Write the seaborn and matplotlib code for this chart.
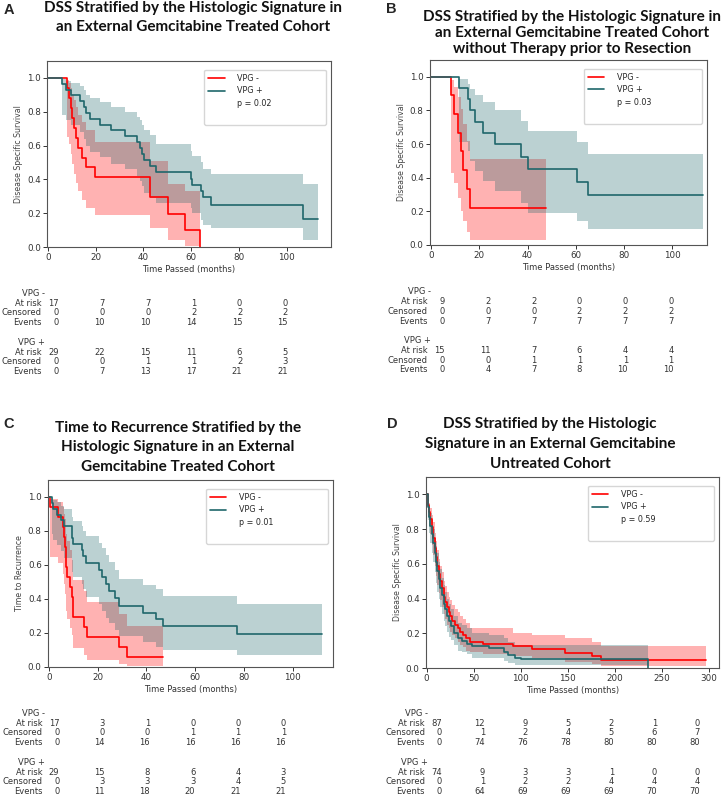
import matplotlib
matplotlib.use("Agg")
import matplotlib.pyplot as plt
import matplotlib.transforms as mtransforms
from matplotlib.lines import Line2D
import seaborn as sns

# ---------------- data ----------------
# Panel A : DSS, gemcitabine treated cohort
a_neg_t = [0, 8.0, 8.9, 9.6, 10.2, 10.7, 11.9, 12.6, 14.2, 15.9, 19.8, 42.6, 50.2, 57.5, 63.7]
a_neg_s = [1, .941, .882, .824, .765, .706, .647, .588, .529, .471, .412, .294, .196, .098, 0]
a_neg_lo = [1, .65, .61, .55, .49, .43, .38, .33, .28, .23, .19, .11, .04, .005, 0]
a_neg_hi = [1, .99, .97, .94, .90, .87, .83, .78, .74, .69, .62, .51, .37, .33, 0]
a_pos_t = [0, 5.9, 7.4, 9.6, 13.5, 15.2, 15.9, 17.4, 21.6, 26.5, 32.4, 37.2, 38.6, 39.3, 40.2,
           42.8, 45.2, 59.8, 60.5, 64.2, 65.0, 68.3, 106.7, 113.2]
a_pos_s = [1, .966, .931, .897, .862, .828, .793, .759, .724, .690, .655, .621, .586, .552, .517,
           .480, .442, .405, .368, .331, .294, .250, .167, .167]
a_pos_lo = [1, .78, .75, .72, .68, .64, .60, .56, .53, .49, .46, .42, .39, .36, .32,
            .29, .26, .23, .20, .16, .13, .11, .04, .04]
a_pos_hi = [1, .995, .98, .97, .95, .93, .90, .88, .86, .83, .80, .77, .75, .72, .69,
            .66, .61, .57, .54, .50, .46, .43, .37, .37]
a_neg_table = [[17, 7, 7, 1, 0, 0], [0, 0, 0, 2, 2, 2], [0, 10, 10, 14, 15, 15]]
a_pos_table = [[29, 22, 15, 11, 6, 5], [0, 0, 1, 1, 2, 3], [0, 7, 13, 17, 21, 21]]

# Panel B : DSS, no therapy prior to resection
b_neg_t = [0, 8.2, 9.6, 11.1, 12.2, 13.2, 14.8, 16.1, 47.8]
b_neg_s = [1, .889, .778, .667, .556, .444, .333, .222, .222]
b_neg_lo = [1, .43, .37, .28, .20, .14, .08, .03, .03]
b_neg_hi = [1, .98, .94, .88, .81, .72, .62, .51, .51]
b_pos_t = [0, 11.5, 15.1, 16.2, 18.0, 21.7, 26.6, 37.4, 40.2, 60.5, 65.0, 112.7]
b_pos_s = [1, .933, .867, .800, .733, .667, .600, .525, .450, .375, .300, .300]
b_pos_lo = [1, .61, .56, .50, .44, .38, .32, .25, .19, .14, .095, .095]
b_pos_hi = [1, .99, .96, .93, .89, .85, .80, .74, .68, .61, .54, .54]
b_neg_table = [[9, 2, 2, 0, 0, 0], [0, 0, 0, 2, 2, 2], [0, 7, 7, 7, 7, 7]]
b_pos_table = [[15, 11, 7, 6, 4, 4], [0, 0, 1, 1, 1, 1], [0, 4, 7, 8, 10, 10]]

# Panel C : time to recurrence
c_neg_t = [0, 0.3, 3.8, 5.6, 6.0, 6.4, 6.8, 7.0, 7.2, 8.6, 9.3, 9.7, 10.0, 14.3, 15.7, 28.8, 31.8, 46.8]
c_neg_s = [1, .941, .882, .824, .765, .706, .647, .588, .529, .471, .412, .353, .294, .235, .176, .118, .059, .059]
c_neg_lo = [1, .65, .61, .55, .49, .43, .38, .33, .28, .23, .19, .15, .11, .07, .04, .02, .004, .004]
c_neg_hi = [1, .99, .97, .94, .90, .87, .83, .78, .74, .69, .63, .57, .51, .45, .38, .31, .24, .24]
c_pos_t = [0, 1.1, 1.8, 3.4, 5.1, 6.2, 9.5, 9.6, 9.8, 13.4, 14.1, 15.0, 20.5, 21.6, 23.3, 24.5,
           27.0, 28.6, 38.6, 44.0, 46.8, 77.2, 112.0]
c_pos_s = [1, .966, .931, .897, .862, .828, .793, .759, .724, .690, .655, .610, .570, .530, .490, .450,
           .405, .360, .320, .280, .240, .194, .194]
c_pos_lo = [1, .78, .75, .72, .68, .64, .60, .56, .53, .49, .46, .41, .37, .33, .29, .26,
            .22, .18, .15, .12, .10, .07, .07]
c_pos_hi = [1, .995, .98, .97, .95, .93, .90, .88, .86, .83, .80, .77, .73, .70, .66, .62,
            .57, .52, .48, .46, .42, .37, .37]
c_neg_table = [[17, 3, 1, 0, 0, 0], [0, 0, 0, 1, 1, 1], [0, 14, 16, 16, 16, 16]]
c_pos_table = [[29, 15, 8, 6, 4, 3], [0, 3, 3, 3, 4, 5], [0, 11, 18, 20, 21, 21]]

# Panel D : DSS, gemcitabine untreated cohort
d_neg_t = [0, 1, 2.5, 4, 5.5, 7, 8.5, 10, 11.5, 13, 14.5, 16, 18, 20, 22, 23.5, 25, 27, 30, 33,
           36, 39, 42, 46, 60, 92, 112, 147, 176, 185, 297]
d_neg_s = [1, .94, .90, .86, .81, .75, .69, .64, .59, .54, .50, .46, .41, .38, .35, .32, .30, .27, .25, .23,
           .21, .19, .17, .15, .14, .125, .11, .086, .068, .045, .045]
d_neg_lo = [1, .87, .82, .77, .71, .65, .59, .53, .48, .43, .39, .35, .31, .28, .25, .23, .21, .19, .17, .15,
            .13, .12, .10, .09, .08, .07, .055, .035, .025, .012, .012]
d_neg_hi = [1, .98, .95, .92, .88, .84, .78, .73, .68, .63, .59, .55, .50, .47, .44, .41, .39, .36, .34, .32,
            .30, .28, .26, .23, .23, .20, .19, .17, .15, .125, .125]
d_pos_t = [0, 1, 2.5, 4, 5.5, 7, 8.5, 10, 11.5, 13, 14.5, 16, 18, 20, 22, 24, 26, 29, 33, 38,
           43, 48, 66, 82, 87, 94, 100, 236]
d_pos_s = [1, .93, .87, .82, .77, .72, .66, .61, .56, .51, .46, .42, .37, .34, .30, .27, .24, .20, .17, .155,
           .14, .125, .115, .095, .075, .06, .05, 0]
d_pos_lo = [1, .85, .78, .72, .66, .61, .55, .49, .44, .40, .35, .31, .27, .24, .21, .18, .16, .13, .10, .09,
            .08, .06, .055, .04, .03, .02, .015, 0]
d_pos_hi = [1, .97, .93, .89, .85, .80, .75, .70, .66, .61, .57, .52, .48, .44, .40, .37, .34, .30, .26, .245,
            .23, .20, .19, .17, .15, .13, .13, 0]
d_neg_table = [[87, 12, 9, 5, 2, 1, 0], [0, 1, 2, 4, 5, 6, 7], [0, 74, 76, 78, 80, 80, 80]]
d_pos_table = [[74, 9, 3, 3, 1, 0, 0], [0, 1, 2, 2, 4, 4, 4], [0, 64, 69, 69, 69, 70, 70]]

group_labels = ["VPG -", "VPG +"]
row_labels = ["At risk", "Censored", "Events"]
ticks_100 = [0, 20, 40, 60, 80, 100]
ticks_300 = [0, 50, 100, 150, 200, 250, 300]

RED = "#ff0000"
TEAL = "#1f676b"

sns.set_style("ticks")
plt.rcParams["font.family"] = ["DejaVu Sans"]

W, H = 724, 800
fig = plt.figure(figsize=(W / 100, H / 100), dpi=100)


def px_axes(x0, y0, x1, y1):
    # pixel box (top-left origin) -> figure axes
    return fig.add_axes([x0 / W, 1 - y1 / H, (x1 - x0) / W, (y1 - y0) / H])


def km_panel(box, curves, xlim, ticks, ylabel, pval):
    ax = px_axes(*box)
    for t, s, lo, hi, col in curves:
        ax.fill_between(t, lo, hi, step="post", color=col, alpha=0.3, linewidth=0)
    for t, s, lo, hi, col in curves:
        sns.lineplot(x=t, y=s, drawstyle="steps-post", color=col, linewidth=1.2,
                     ax=ax, estimator=None, sort=False)
    ax.set_xlim(*xlim)
    ax.set_ylim(0, 1.1)
    ax.set_xticks(ticks)
    ax.set_yticks([0, 0.2, 0.4, 0.6, 0.8, 1.0])
    ax.tick_params(labelsize=6.3, length=3, width=0.7, pad=1.5, colors="#333333")
    for sp in ax.spines.values():
        sp.set_color("#555555")
        sp.set_linewidth(0.8)
    ax.set_xlabel("Time Passed (months)", fontsize=6, color="#333333", labelpad=2)
    ax.set_ylabel(ylabel, fontsize=5.6, color="#444444", labelpad=3)
    handles = [Line2D([], [], color=RED, lw=1.2), Line2D([], [], color=TEAL, lw=1.2),
               Line2D([], [], color="none"), Line2D([], [], color="none")]
    ax.legend(handles, group_labels + [pval, " "], loc="upper left",
              bbox_to_anchor=(0.54, 0.975, 0.455, 0.0), mode="expand", fontsize=5.8,
              handlelength=2.0, handletextpad=1.6, labelspacing=0.45, borderpad=0.5,
              frameon=True, edgecolor="#cccccc")
    return ax


def risk_table(x0, x1, y0, y1, ticks, neg, pos):
    tab = px_axes(x0, y0, x1, y1)
    tab.set_xlim(ticks[0], ticks[-1])
    tab.set_ylim(8, 0)
    tab.axis("off")
    hdr = mtransforms.offset_copy(tab.transData, fig=fig, x=-14, y=0, units="dots")
    row = mtransforms.offset_copy(tab.transData, fig=fig, x=-17, y=0, units="dots")
    kw = dict(fontsize=6, color="#333333", va="center", ha="right")
    for g, (name, table) in enumerate(zip(group_labels, [neg, pos])):
        base = g * 5
        tab.text(ticks[0], base, name, transform=hdr, **kw)
        for r, (rname, values) in enumerate(zip(row_labels, table)):
            tab.text(ticks[0], base + 1 + r, rname, transform=row, **kw)
            for tk, v in zip(ticks, values):
                tab.text(tk, base + 1 + r, str(v), **kw)


km_panel((47, 61, 331, 247),
         [(a_neg_t, a_neg_s, a_neg_lo, a_neg_hi, RED), (a_pos_t, a_pos_s, a_pos_lo, a_pos_hi, TEAL)],
         (-0.4, 118.5), ticks_100, "Disease Specific Survival", "p = 0.02")
risk_table(59, 288, 293.3, 371.7, ticks_100, a_neg_table, a_pos_table)

km_panel((430, 60, 707, 245),
         [(b_neg_t, b_neg_s, b_neg_lo, b_neg_hi, RED), (b_pos_t, b_pos_s, b_pos_lo, b_pos_hi, TEAL)],
         (-0.5, 114.5), ticks_100, "Disease Specific Survival", "p = 0.03")
risk_table(444.7, 673.7, 291.7, 370, ticks_100, b_neg_table, b_pos_table)

km_panel((48, 480, 333, 667),
         [(c_neg_t, c_neg_s, c_neg_lo, c_neg_hi, RED), (c_pos_t, c_pos_s, c_pos_lo, c_pos_hi, TEAL)],
         (-0.4, 116.5), ticks_100, "Time to Recurrence", "p = 0.01")
risk_table(59.3, 286, 713.3, 791.7, ticks_100, c_neg_table, c_pos_table)

km_panel((426, 477, 719, 668),
         [(d_neg_t, d_neg_s, d_neg_lo, d_neg_hi, RED), (d_pos_t, d_pos_s, d_pos_lo, d_pos_hi, TEAL)],
         (-0.7, 311), ticks_300, "Disease Specific Survival", "p = 0.59")
risk_table(442, 700, 713.3, 791.7, ticks_300, d_neg_table, d_pos_table)

# titles and panel letters
title_kw = dict(fontsize=11, fontweight="bold", family=["Lato", "DejaVu Sans"],
                ha="center", va="center", color="#111111")
fig.text(193 / W, 1 - 17.5 / H,
         "DSS Stratified by the Histologic Signature in\nan External Gemcitabine Treated Cohort",
         linespacing=1.37, **title_kw)
fig.text(572 / W, 1 - 33 / H,
         "DSS Stratified by the Histologic Signature in\nan External Gemcitabine Treated Cohort\n"
         "without Therapy prior to Resection", linespacing=1.21, **title_kw)
fig.text(178 / W, 1 - 447.3 / H,
         "Time to Recurrence Stratified by the\nHistologic Signature in an External\n"
         "Gemcitabine Treated Cohort", linespacing=1.51, **title_kw)
fig.text(550 / W, 1 - 444 / H,
         "DSS Stratified by the Histologic\nSignature in an External Gemcitabine\n"
         "Untreated Cohort", linespacing=1.51, **title_kw)

letter_kw = dict(fontsize=10.5, fontweight="bold", family=["Liberation Sans", "DejaVu Sans"],
                 ha="center", va="center")
for letter, x, y in [("A", 9, 9.5), ("B", 391, 9), ("C", 9, 424), ("D", 392, 424)]:
    fig.text(x / W, 1 - y / H, letter, **letter_kw)

fig.savefig("out.png", dpi=100)
